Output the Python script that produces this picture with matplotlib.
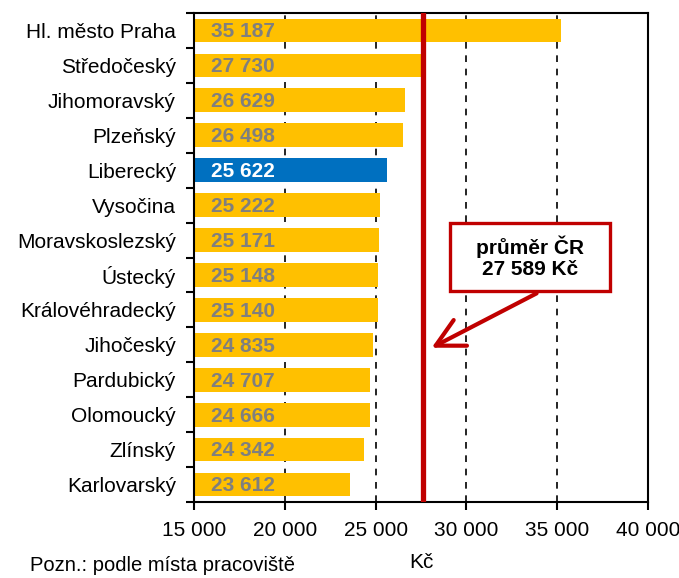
import matplotlib.pyplot as plt
from matplotlib.patches import FancyArrowPatch, Rectangle

plt.rcParams['font.family'] = ['Liberation Sans', 'DejaVu Sans']

# data
kraje = ["Hl. město Praha", "Středočeský", "Jihomoravský", "Plzeňský", "Liberecký",
         "Vysočina", "Moravskoslezský", "Ústecký", "Královéhradecký", "Jihočeský",
         "Pardubický", "Olomoucký", "Zlínský", "Karlovarský"]
mzda = [35187, 27730, 26629, 26498, 25622, 25222, 25171, 25148, 25140, 24835,
        24707, 24666, 24342, 23612]
prumer_cr = 27589
zvyrazneny = "Liberecký"
xticks = [15000, 20000, 25000, 30000, 35000, 40000]

def fmt(v):
    return f"{v:,}".replace(",", " ")

fig = plt.figure(figsize=(6.79, 5.78), dpi=100)
ax = fig.add_axes([194 / 679, 1 - 502 / 578, 454 / 679, 489 / 578])

n = len(kraje)
ypos = list(range(n))
colors = ["#0070C0" if k == zvyrazneny else "#FFC000" for k in kraje]
ax.barh(ypos, [m - 15000 for m in mzda], left=15000, height=0.68,
        color=colors, zorder=2)

for y, k, m in zip(ypos, kraje, mzda):
    c = "white" if k == zvyrazneny else "#7F7F7F"
    ax.annotate(fmt(m), xy=(15000, y), xytext=(12, -1), textcoords="offset points",
                ha="left", va="center", fontsize=15, fontweight="bold", color=c, zorder=3)

# dashed grid
for g in xticks[1:-1]:
    ax.axvline(g, color="black", lw=1.2, ls=(0, (4, 4)), zorder=1)

ax.axvline(prumer_cr, color="#C00000", lw=3.8, zorder=4)

ax.set_xlim(15000, 40000)
ax.set_ylim(n - 0.5, -0.5)
ax.set_xticks(xticks)
ax.set_xticklabels([fmt(t) for t in xticks], fontsize=15)
ax.set_yticks([y - 0.5 for y in range(n + 1)])
ax.set_yticklabels([])
ax.set_yticks(ypos, minor=True)
ax.set_yticklabels(kraje, minor=True, fontsize=15)
ax.tick_params(axis="y", which="minor", length=0, pad=13)
ax.tick_params(axis="y", which="major", length=6, width=1.5, direction="out")
ax.tick_params(axis="x", length=6, width=1.5, direction="out", pad=8)
for s in ax.spines.values():
    s.set_linewidth(1.5)
ax.set_xlabel("Kč", fontsize=15, labelpad=9)

# callout
ax.add_patch(Rectangle((0.564, 0.431), 0.352, 0.140, transform=ax.transAxes,
                       fc="white", ec="#C00000", lw=2.4, zorder=6))
ax.text(0.740, 0.501, "průměr ČR\n27 589 Kč", transform=ax.transAxes,
        ha="center", va="center", fontsize=15, fontweight="bold",
        linespacing=1.15, zorder=7)
arrow = FancyArrowPatch((34000, 7.49), (27950, 9.12),
                        arrowstyle="->,head_length=5,head_width=2.6",
                        color="#C00000", lw=3, mutation_scale=4, zorder=5)
ax.add_patch(arrow)

fig.text(30 / 679, 3 / 578, "Pozn.: podle místa pracoviště", fontsize=14.5,
         ha="left", va="bottom")

fig.savefig("out.png", dpi=100)
